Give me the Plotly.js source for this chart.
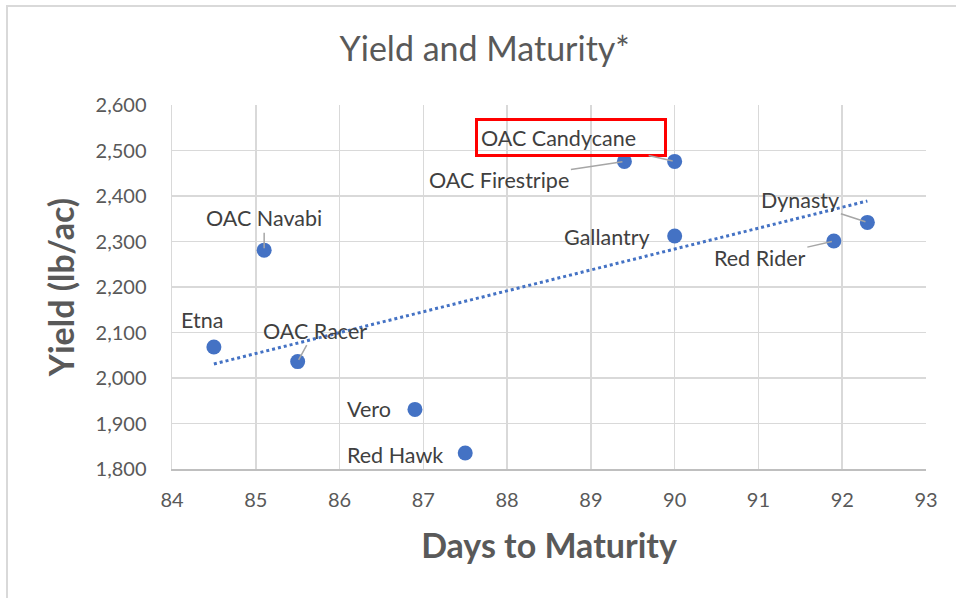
<!DOCTYPE html>
<html>
<head>
<meta charset="utf-8">
<script src="https://cdn.plot.ly/plotly-3.0.1.min.js"></script>
<style>
  html, body { margin: 0; padding: 0; background: #fff; overflow: hidden; }
  #frame { position: absolute; left: 6px; top: 5px; width: 1000px; height: 700px;
           border-top: 2px solid #d9d9d9; border-left: 2px solid #d9d9d9; box-sizing: border-box; }
  #chart { position: absolute; left: 0; top: 0; width: 956px; height: 598px; }
</style>
</head>
<body>
<div id="frame"></div>
<div id="chart"></div>
<script>
// Data
const varieties = ["Etna", "OAC Navabi", "OAC Racer", "Vero", "Red Hawk",
                   "OAC Firestripe", "OAC Candycane", "Gallantry", "Red Rider", "Dynasty"];
const daysToMaturity = [84.5, 85.1, 85.5, 86.9, 87.5, 89.4, 90.0, 90.0, 91.9, 92.3];
const yieldLbAc = [2068, 2281, 2036, 1931, 1835, 2476, 2476, 2312, 2301, 2342];
const xTicks = [84, 85, 86, 87, 88, 89, 90, 91, 92, 93];
const yTicks = [1800, 1900, 2000, 2100, 2200, 2300, 2400, 2500, 2600];

// Label placement (pixel offsets from point to label centre) and leader-line flags
const labelDx = [-12, 0, 17, -46, -70, -125, -104, -68, -74, -67];
const labelDy = [-27, -32, -31, 0, 2, 19, -24, 1, 17, -22];
const labelLine = [false, true, true, false, false, true, true, false, true, true];

// Linear trendline (least squares), as the source spreadsheet computes it
const n = daysToMaturity.length;
const mx = daysToMaturity.reduce((a, b) => a + b, 0) / n;
const my = yieldLbAc.reduce((a, b) => a + b, 0) / n;
let sxy = 0, sxx = 0;
for (let i = 0; i < n; i++) {
  sxy += (daysToMaturity[i] - mx) * (yieldLbAc[i] - my);
  sxx += (daysToMaturity[i] - mx) ** 2;
}
const slope = sxy / sxx, intercept = my - slope * mx;
const tx = [Math.min(...daysToMaturity), Math.max(...daysToMaturity)];
const ty = tx.map(x => intercept + slope * x);

const FONT = "Lato, 'Open Sans', sans-serif";
const blue = "#4472C4";

const traces = [
  {
    x: tx, y: ty, mode: "lines", type: "scatter",
    line: { color: blue, width: 3, dash: "dot" }, hoverinfo: "skip"
  },
  {
    x: daysToMaturity, y: yieldLbAc, mode: "markers", type: "scatter",
    text: varieties,
    marker: { color: blue, size: 15, line: { width: 0 } }
  }
];

const annotations = varieties.map((name, i) => {
  const a = {
    x: daysToMaturity[i], y: yieldLbAc[i], xref: "x", yref: "y",
    text: name, showarrow: true, ax: labelDx[i], ay: labelDy[i],
    arrowhead: 0, arrowwidth: 1.5, standoff: 2,
    arrowcolor: labelLine[i] ? "#a6a6a6" : "rgba(0,0,0,0)",
    font: { family: FONT, size: 21.5, color: "#404040" }
  };
  if (name === "OAC Candycane") {
    a.bordercolor = "#ff0000";
    a.borderwidth = 3;
    a.width = 180;
    a.height = 27;
    a.borderpad = 3;
    a.align = "left";
  }
  return a;
});

const layout = {
  width: 956, height: 598,
  paper_bgcolor: "rgba(0,0,0,0)", plot_bgcolor: "#ffffff",
  margin: { l: 172, r: 30, t: 105, b: 129 },
  showlegend: false,
  title: {
    text: "Yield and Maturity*",
    font: { family: FONT, size: 34, color: "#595959" },
    x: 0.507, xref: "container", xanchor: "center",
    y: 1 - 49 / 598, yref: "container", yanchor: "middle"
  },
  xaxis: {
    range: [84, 93], tickvals: xTicks, ticktext: xTicks.map(String),
    showgrid: true, gridcolor: "#d9d9d9", gridwidth: 1.5,
    showline: true, linecolor: "#bfbfbf", linewidth: 1.5, mirror: false,
    zeroline: false, ticks: "", ticklabelstandoff: 12,
    tickfont: { family: FONT, size: 20, color: "#595959" },
    title: { text: "<b>Days to Maturity</b>", standoff: 24,
             font: { family: FONT, size: 34, color: "#595959" } }
  },
  yaxis: {
    range: [1800, 2600], tickvals: yTicks, tickformat: ",d",
    showgrid: true, gridcolor: "#d9d9d9", gridwidth: 1.5,
    showline: true, linecolor: "#d9d9d9", linewidth: 1.5,
    zeroline: false, ticks: "", ticklabelstandoff: 20,
    tickfont: { family: FONT, size: 20, color: "#595959" },
    title: { text: "<b>Yield (lb/ac)</b>", standoff: 10,
             font: { family: FONT, size: 34, color: "#595959" } }
  },
  annotations: annotations
};

Plotly.newPlot("chart", traces, layout, { displayModeBar: false, staticPlot: true });
</script>
</body>
</html>
